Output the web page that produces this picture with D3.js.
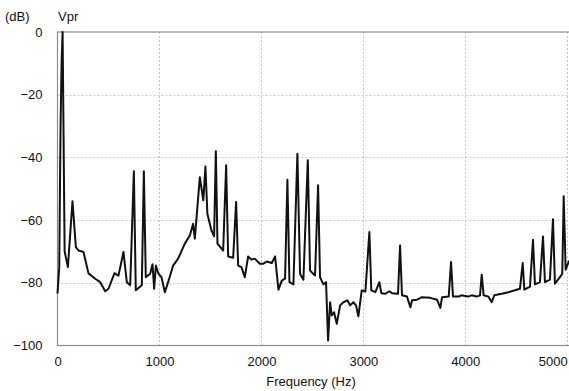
<!DOCTYPE html>
<html>
<head>
<meta charset="utf-8">
<script src="https://cdn.jsdelivr.net/npm/d3@7"></script>
<style>
  html, body { margin: 0; padding: 0; background: #fff; }
  svg { display: block; font-family: "Liberation Sans", Arial, sans-serif; }
</style>
</head>
<body>
<svg id="chart" width="569" height="391"></svg>
<script>
// Spectrum of Vpr: frequency (Hz) and level (dB)
const freqHz = [
  0, 17, 30, 40, 50, 60, 70, 102, 147, 180, 206, 255, 304, 370, 419, 468, 500,
  559, 598, 647, 680, 713, 749, 768, 827, 847, 866, 909, 932, 948, 965, 990,
  1020, 1053, 1085, 1134, 1183, 1249, 1298, 1330, 1347, 1396, 1430, 1451, 1470,
  1510, 1536, 1553, 1569, 1625, 1654, 1674, 1723, 1752, 1772, 1804, 1837, 1870,
  1902, 1935, 1984, 2020, 2053, 2102, 2134, 2167, 2200, 2232, 2255, 2275, 2314,
  2353, 2379, 2412, 2455, 2477, 2526, 2556, 2575, 2608, 2634, 2654, 2674, 2690,
  2713, 2739, 2772, 2804, 2843, 2870, 2902, 2928, 2951, 2984, 3020, 3059, 3078,
  3118, 3157, 3176, 3216, 3255, 3281, 3340, 3360, 3379, 3428, 3461, 3478, 3526,
  3575, 3657, 3723, 3755, 3772, 3837, 3860, 3879, 3935, 3961, 4026, 4062, 4112,
  4144, 4161, 4180, 4226, 4259, 4284, 4357, 4422, 4487, 4536, 4563, 4579, 4634,
  4664, 4683, 4732, 4762, 4781, 4830, 4860, 4879, 4928, 4951, 4965, 4984, 5017,
  5060, 5120
];
const levelDb = [
  -83.4, -75, -30, -10, 0, -35, -70, -75, -54, -68.6, -69.7, -70.2, -77, -78.7, -79.8, -82.7, -81.9,
  -76.9, -77.7, -70.2, -79.8, -80.8, -44.4, -82.4, -80.8, -44.4, -78.2, -77.1, -74.1, -81.9, -74.5, -77.1,
  -78.2, -83, -79.8, -74.5, -72.3, -67.5, -64.9, -61.2, -65.9, -46.3, -53.7, -42.9, -58,
  -63.3, -65.2, -38, -67.5, -69.7, -42.5, -71.6, -72, -54.2, -74.5, -75, -78.2, -71.6,
  -72.6, -72.3, -73.9, -73.9, -73.2, -73.7, -71.6, -82.2, -79.3, -78.7, -47.1, -79.8, -80.5,
  -38.8, -77.1, -79, -40.9, -76.1, -77.7, -48.9, -78.2, -80.5, -79.8, -98.4, -86.2, -90.4,
  -89.4, -93.1, -87.2, -86.2, -85.6, -87.2, -86.2, -87.2, -90.7, -82.4, -82.8, -63.8, -82.4,
  -83, -79.8, -83.3, -83.5, -82.7, -83.3, -83.5, -68.1, -84, -84.4, -87.8, -85.6, -85.4,
  -84.6, -84.8, -85.4, -88, -84.6, -84.4, -73.4, -84.4, -84.4, -84, -84.4, -84, -84.4,
  -84, -77.4, -84, -84.4, -86.2, -84, -83.5, -83, -82.4, -81.9, -73.7, -82.2, -81.2,
  -66.3, -80.5, -79.8, -65.2, -79.8, -79, -59.7, -80.3, -78.2, -77.1, -52.4, -75.8, -73.1,
  -72, -73
];
const xTicks = [0, 1000, 2000, 3000, 4000, 5000];
const yTicks = [0, -20, -40, -60, -80, -100];

const svg = d3.select("#chart");
const plotLeft = 57.5, plotTop = 32, plotBottom = 345.5;
const x = d3.scaleLinear().domain([0, 5120]).range([plotLeft, plotLeft + 522]);
const y = d3.scaleLinear().domain([-100, 0]).range([plotBottom, plotTop]);

// dotted grid
const grid = svg.append("g").attr("stroke", "#c8c8c8").attr("stroke-width", 1)
  .attr("stroke-dasharray", "2,2");
grid.selectAll("line.v").data(xTicks.filter(d => d > 0)).join("line")
  .attr("x1", d => Math.round(x(d)) + 0.5).attr("x2", d => Math.round(x(d)) + 0.5)
  .attr("y1", plotTop).attr("y2", plotBottom);
grid.selectAll("line.h").data(yTicks.filter(d => d > -100 && d < 0)).join("line")
  .attr("y1", d => Math.round(y(d)) + 0.5).attr("y2", d => Math.round(y(d)) + 0.5)
  .attr("x1", plotLeft).attr("x2", 569);

// frame
svg.append("rect").attr("x", plotLeft).attr("y", plotTop)
  .attr("width", x(5120) - plotLeft).attr("height", plotBottom - plotTop)
  .attr("fill", "none").attr("stroke", "#8c8c8c").attr("stroke-width", 1.2);

// axes (labels only)
const xAxis = svg.append("g").attr("transform", `translate(0,${plotBottom})`)
  .call(d3.axisBottom(x).tickValues(xTicks).tickFormat(d3.format("d")).tickSize(0).tickPadding(11));
xAxis.select(".domain").remove();
xAxis.selectAll("text").attr("font-size", 13).attr("fill", "#111")
  .attr("font-family", "Liberation Sans, Arial, sans-serif")
  .filter(d => d === 5000).attr("text-anchor", "end");

const yAxis = svg.append("g").attr("transform", `translate(${plotLeft},0)`)
  .call(d3.axisLeft(y).tickValues(yTicks).tickFormat(d3.format("d")).tickSize(0).tickPadding(15));
yAxis.select(".domain").remove();
yAxis.selectAll("text").attr("font-size", 13).attr("fill", "#111")
  .attr("font-family", "Liberation Sans, Arial, sans-serif");

// titles
svg.append("text").attr("x", 5).attr("y", 21).attr("font-size", 13).attr("fill", "#111").text("(dB)");
svg.append("text").attr("x", 58).attr("y", 21).attr("font-size", 13).attr("fill", "#111").text("Vpr");
svg.append("text").attr("x", 311).attr("y", 386).attr("text-anchor", "middle")
  .attr("font-size", 13).attr("fill", "#111").text("Frequency (Hz)");

// spectrum trace
const pts = freqHz.map((f, i) => [f, levelDb[i]]);
svg.append("path").datum(pts)
  .attr("fill", "none").attr("stroke", "#111").attr("stroke-width", 2)
  .attr("stroke-linejoin", "round")
  .attr("d", d3.line().x(d => x(d[0])).y(d => y(d[1])));
</script>
</body>
</html>
